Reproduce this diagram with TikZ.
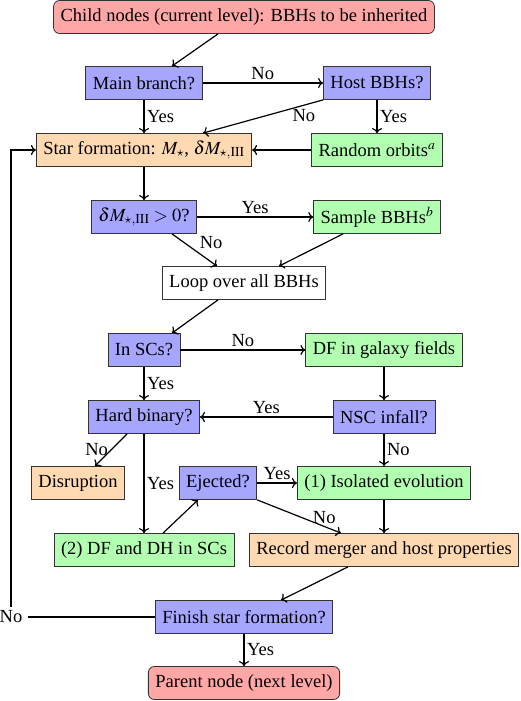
\documentclass[tikz,border=0pt]{standalone}
\usepackage{mathptmx}
\usepackage{fontspec}
\setmainfont{Liberation Serif}
\usetikzlibrary{arrows.meta}

\colorlet{lyserod}{red!35}
\colorlet{blaa}{blue!35}
\colorlet{groen}{green!30}
\colorlet{fersken}{orange!30}

\tikzset{
  boks/.style={draw=black!80, line width=0.8pt, minimum height=33pt, inner xsep=7pt, inner ysep=0pt},
  ende/.style={boks, fill=lyserod, rounded corners=6pt},
  valg/.style={boks, fill=blaa},
  proces/.style={boks, fill=groen},
  resultat/.style={boks, fill=fersken},
  pil/.style={->, line width=1.2pt},
  tekst/.style={inner sep=2.5pt}
}

\begin{document}
\begin{tikzpicture}[x=1pt,y=-1pt,>={To[length=5pt,width=10pt]},font=\fontsize{18.5}{22}\selectfont]
  \useasboundingbox (0,0) rectangle (520,701);

  %start og slut
	\node[ende] (child) at (244,17) {Child nodes (current level): BBHs to be inherited};
	\node[ende] (parent) at (244,683) {Parent node (next level)};

  %spoergsmaal
	\node[valg] (main) at (144,83) {Main branch?};
	\node[valg] (host) at (377,83) {Host BBHs?};
	\node[valg] (dm) at (144,217) {$\delta M_{\star,\mathrm{III}}>0$?};
	\node[valg] (insc) at (144,350) {In SCs?};
	\node[valg] (hard) at (144,417) {Hard binary?};
	\node[valg] (nsc) at (384,417) {NSC infall?};
	\node[valg] (eject) at (218,483) {Ejected?};
	\node[valg] (finish) at (244,617) {Finish star formation?};

  %processer
	\node[proces] (orbits) at (377,150) {Random orbits$^a$};
	\node[proces] (sample) at (377,217) {Sample BBHs$^b$};
	\node[proces] (dfgal) at (384,350) {DF in galaxy fields};
	\node[proces] (iso) at (384,483) {(1) Isolated evolution};
	\node[proces] (dfsc) at (144,550) {(2) DF and DH in SCs};

  %resultater
	\node[resultat] (star) at (144,150) {Star formation: $M_\star$, $\delta M_{\star,\mathrm{III}}$};
	\node[resultat] (disr) at (78,483) {Disruption};
	\node[resultat] (record) at (384,550) {Record merger and host properties};
	\node[boks] (loop) at (244,283) {Loop over all BBHs};

  %pile foroven
	\draw[pil] ([xshift=-26pt]child.south) -- ([xshift=28pt]main.north);
	\draw[pil] (main.east) -- (host.west) node[midway,above,tekst] {No};
	\draw[pil] (main.south) -- (star.north) node[midway,right,tekst] {Yes};
	\draw[pil] (host.south west) -- ([xshift=59pt]star.north) node[pos=0.16,below,inner sep=4pt] {No};
	\draw[pil] (host.south) -- (orbits.north) node[midway,right,tekst] {Yes};
	\draw[pil] (orbits.west) -- (star.east);
	\draw[pil] (star.south) -- (dm.north);
	\draw[pil] (dm.east) -- (sample.west) node[midway,above,tekst] {Yes};
	\draw[pil] ([xshift=28pt]dm.south) -- ([xshift=-27pt]loop.north) node[pos=0.55,above right,tekst] {No};
	\draw[pil] ([xshift=-34pt]sample.south) -- ([xshift=35pt]loop.north);

  %pile i midten
	\draw[pil] ([xshift=-26pt]loop.south) -- ([xshift=28pt]insc.north);
	\draw[pil] (insc.east) -- (dfgal.west) node[midway,above,tekst] {No};
	\draw[pil] (insc.south) -- (hard.north) node[midway,right,tekst] {Yes};
	\draw[pil] (dfgal.south) -- (nsc.north);
	\draw[pil] (nsc.west) -- (hard.east) node[midway,above,tekst] {Yes};
	\draw[pil] ([xshift=-17pt]hard.south) -- ([xshift=17pt]disr.north) node[midway,left,tekst] {No};
	\draw[pil] (hard.south) -- (dfsc.north) node[midway,right,tekst] {Yes};
	\draw[pil] (nsc.south) -- (iso.north) node[midway,right,tekst] {No};

  %pile forneden
	\draw[pil] ([xshift=19pt]dfsc.north) -- ([xshift=-20pt]eject.south);
	\draw[pil] (eject.east) -- (iso.west) node[midway,above,tekst] {Yes};
	\draw[pil] (eject.south east) -- ([xshift=-43pt]record.north) node[pos=0.8,above,tekst] {No};
	\draw[pil] (iso.south) -- (record.north);
	\draw[pil] ([xshift=-36pt]record.south) -- ([xshift=37pt]finish.north);
	\draw[pil] (finish.south) -- (parent.north) node[midway,right,tekst] {Yes};

  %tilbage til stjernedannelse
	\node[inner xsep=5pt] (nej) at (11,617) {No};
	\draw[line width=1.2pt] (finish.west) -- (nej.east);
	\draw[pil] (nej.north) |- (star.west);
\end{tikzpicture}
\end{document}
